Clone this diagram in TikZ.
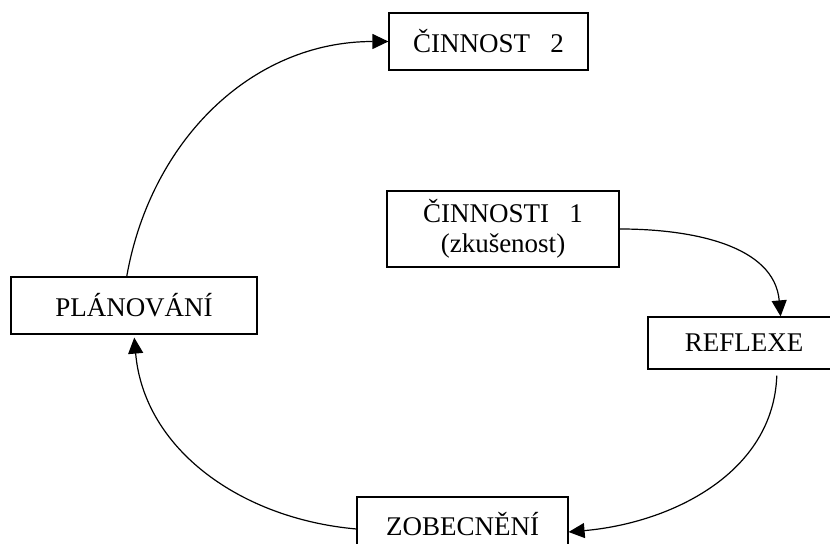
\documentclass[tikz,border=0pt]{standalone}
\usepackage{fontspec}
\setmainfont{Liberation Serif}
\usetikzlibrary{arrows.meta,positioning}
\tikzset{
    boxsty/.style={draw,fill=white,rectangle,line width=0.6pt,inner sep=0pt,align=center,
                   font=\fontsize{13.5}{15}\selectfont},
    arrsty/.style={-{Triangle[length=8pt,width=7.5pt]},line width=0.6pt},
}

\begin{document}
\begin{tikzpicture}[x=0.5pt,y=-0.5pt]
\useasboundingbox (0,0) rectangle (830,544);
\node[boxsty,minimum width=99.5pt,minimum height=28.5pt] (cin2) at (488.5,41.5) {ČINNOST~~~2};
\node[boxsty,minimum width=116pt,minimum height=38pt] (cin1) at (503,229) {ČINNOSTI~~~1\\(zkušenost)};
\node[boxsty,minimum width=123pt,minimum height=28.5pt] (plan) at (134,305.5) {PLÁNOVÁNÍ};
\node[boxsty,minimum width=96pt,minimum height=26pt] (refl) at (744,343) {REFLEXE};
\node[boxsty,minimum width=105.5pt,minimum height=27pt] (zob) at (462.5,524) {ZOBECNĚNÍ};

\draw[arrsty] (plan.104) to[out=80,in=180] (cin2.west);
\draw[arrsty] (cin1.east) to[out=0,in=95] (refl.36);
\draw[arrsty,shorten <=3pt] ([xshift=16.5pt]refl.south) to[out=-92,in=5] ([yshift=-4pt]zob.east);
\draw[arrsty,shorten >=1.5pt] ([yshift=-2.5pt]zob.west) to[out=175,in=-85] (plan.south);
\end{tikzpicture}
\end{document}
